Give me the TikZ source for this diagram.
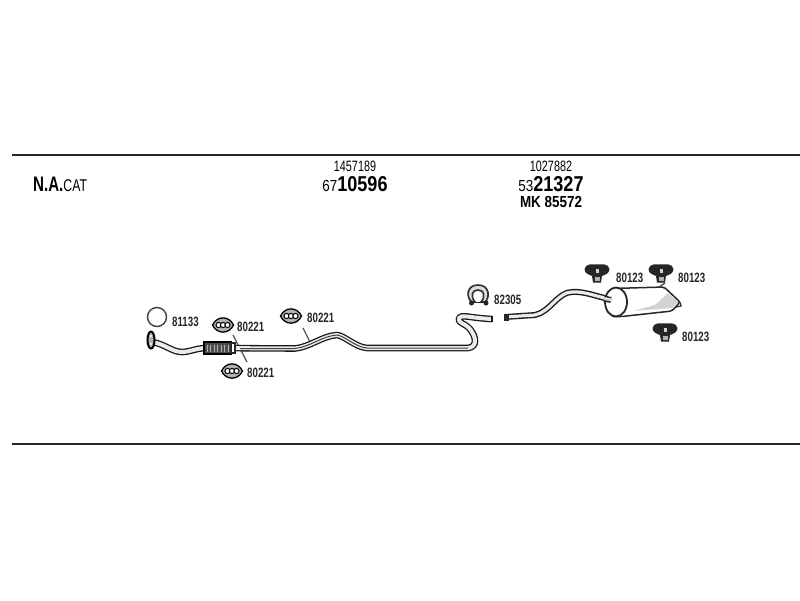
\documentclass[tikz,border=0pt]{standalone}
\usepackage{fontspec}
\setmainfont[FakeStretch=0.72]{Liberation Sans}
\newfontfamily\widefont[FakeStretch=0.84]{Liberation Sans}
\usepackage{tikz}
\usetikzlibrary{positioning,calc}
\newcommand\frontpipe{(152,342) .. controls (165,344) and (172,352) .. (182,352) .. controls (190,352) and (196,348) .. (207,348) -- (295,348.5) .. controls (310,347) and (322,336) .. (337,335) .. controls (345,336) and (355,347) .. (367,348) -- (468,348) .. controls (477,347) and (477,338) .. (470,329) .. controls (465,323) and (457,323) .. (459,318) .. controls (461,314) and (470,318) .. (492,319)}
\newcommand\rearpipe{(505,317) -- (535,315) .. controls (550,312) and (558,292) .. (572,292) .. controls (585,291) and (597,297) .. (610,299)}
\tikzset{
  partno/.style = {font = \fontsize{15}{15}\selectfont, inner sep = 0pt},
  refno/.style = {font = \fontsize{13.5}{14}\bfseries\selectfont, inner sep = 0pt, text = black!85},
  rule/.style = {line width = 1.6pt, black!85},
  tube/.style = {line width = 6.6pt, black!90, line join = round},
  tubein/.style = {line width = 4pt, white!92!black, line join = round},
  tubemid/.style = {line width = 1pt, black!75, line join = round},
  stub/.style = {line width = 1.3pt, black!65},
  pics/gasket/.style = {code = {
    \draw[line width = 1.3pt, fill = gray!60] (-10.5,0) .. controls (-6,-9.5) and (6,-9.5) .. (10.5,0) .. controls (6,9.5) and (-6,9.5) .. (-10.5,0) -- cycle;
    \foreach \i in {-4.5,0,4.5} \draw[line width = 1pt, fill = white] (\i,0) circle (2.6);
  }},
  pics/hanger/.style = {code = {
    \fill[black!85] (-12.5,-3) .. controls (-11,-9) and (-5,-7.5) .. (0,-7.5) .. controls (5,-7.5) and (11,-9) .. (12.5,-3) .. controls (12.5,2) and (7,3) .. (5,4) -- (4,10.5) -- (-4,10.5) -- (-5,4) .. controls (-7,3) and (-12.5,2) .. (-12.5,-3) -- cycle;
    \fill[gray!35] (-1.5,-3.5) rectangle (1.5,1);
    \fill[gray!60] (-2.5,5) rectangle (2.5,8.5);
  }}
}
\begin{document}
\begin{tikzpicture}[x = 1pt, y = -1pt]
\useasboundingbox (0,0) rectangle (800,600);
\draw[rule] (12,155) -- (800,155);
\draw[rule] (12,444) -- (800,444);
% headings
\node[anchor = west, inner sep = 0pt] (cat) at (33,184) {\fontsize{21}{21}\selectfont\textbf{N.A.}\fontsize{17}{17}\selectfont CAT};
\node[partno] (num1) at (355,166) {1457189};
\node[inner sep = 0pt] (big1) at (355,184) {\widefont\fontsize{16}{16}\selectfont 67\fontsize{21.5}{21.5}\selectfont\textbf{10596}};
\node[partno] (num2) at (551,166) {1027882};
\node[inner sep = 0pt] (big2) at (551,184) {\widefont\fontsize{16}{16}\selectfont 53\fontsize{21.5}{21.5}\selectfont\textbf{21327}};
\node[inner sep = 0pt, font = \widefont\fontsize{16}{16}\bfseries\selectfont] (mk) at (551,202) {MK 85572};
% stubs
\draw[stub] (233,335) -- (247,362);
\draw[stub] (303,328) -- (310,342);
% front pipe
\draw[tube] \frontpipe;
\draw[tubein] \frontpipe;
\draw[tubemid] (240,348.5) -- (295,348.5) .. controls (310,347) and (322,336) .. (337,335) .. controls (345,336) and (355,347) .. (367,348) -- (468,348);
\draw[line width = 1.3pt, black!90] (492,315.7) -- (492,322.3);
% flange at the inlet
\draw[line width = 2pt, fill = gray!60] (151,340) ellipse (3.5 and 8.5);
\fill[white] (151,336) circle (1.2) (151,344) circle (1.2);
% flex section
\draw[line width = 1.2pt, fill = black!70] (204,342) rectangle (231,354);
\foreach \x in {207,210.5,...,229} \draw[white!70!black, line width = .9pt] (\x,344.5) -- (\x,351.5);
\draw[black!85, line width = 1.2pt, fill = white] (231,343) rectangle (235,353);
% ring
\draw[line width = 1.4pt, black!75] (157,317) circle (9.5);
\node[refno, anchor = west] (ringno) at (172,322) {81133};
% gaskets
\pic (gasketa) at (223,325) {gasket};
\node[refno, anchor = west] (gasketno) at (237,327) {80221};
\pic (gasketb) at (291,316) {gasket};
\node[refno, anchor = west] (gasketnob) at (307,318) {80221};
\pic (gasketc) at (232,371) {gasket};
\node[refno, anchor = west] (gasketnoc) at (247,373) {80221};
% clamp
\draw[line width = 1.7pt, black!80, fill = gray!25] (472,302) .. controls (466,298) and (466,285) .. (478,285) .. controls (490,285) and (490,298) .. (485,302) -- (481,302) .. controls (486,296) and (484,290) .. (478,290) .. controls (472,290) and (470,296) .. (475,302) -- cycle;
\draw[line width = 1.7pt, black!85] (470,302.5) -- (487,302.5);
\fill[black!85] (471.5,303) circle (2.5) (486,303) circle (2.5);
\node[refno, anchor = west] (clampno) at (494,300) {82305};
% rear pipe
\draw[tube, line width = 6pt] \rearpipe;
\draw[tubein, line width = 3.2pt] \rearpipe;
\fill[black!85] (504,313.5) rectangle (509,321);
% muffler
\draw[line width = 1.5pt, black!85, fill = white, rounded corners = 2pt] (612,288.5) -- (664,287) -- (680,302) -- (672,311) -- (622,316.5) -- (612,316.5) -- cycle;
\fill[gray!35] (633,311) -- (672,308) -- (678,302) -- (668,293) -- (655,305) -- cycle;
\draw[line width = 1.8pt, black!85, fill = white] (616,302) ellipse (11 and 14.5);
\draw[line width = 6pt, black!85] (604,298.5) -- (611,300);
\draw[line width = 3pt, white!85!black] (604,298.5) -- (612,300);
\draw[line width = 1.3pt, black!80] (680,302) -- (681,306) -- (676,307);
\draw[line width = 1.3pt, black!70] (659,287) -- (665,283);
% hangers
\pic (hangera) at (597,272) {hanger};
\node[refno, anchor = west] (hangerno) at (616,278) {80123};
\pic (hangerb) at (661,272) {hanger};
\node[refno, anchor = west] (hangernob) at (678,278) {80123};
\pic (hangerc) at (665,331) {hanger};
\node[refno, anchor = west] (hangernoc) at (682,337) {80123};
\end{tikzpicture}
\end{document}
